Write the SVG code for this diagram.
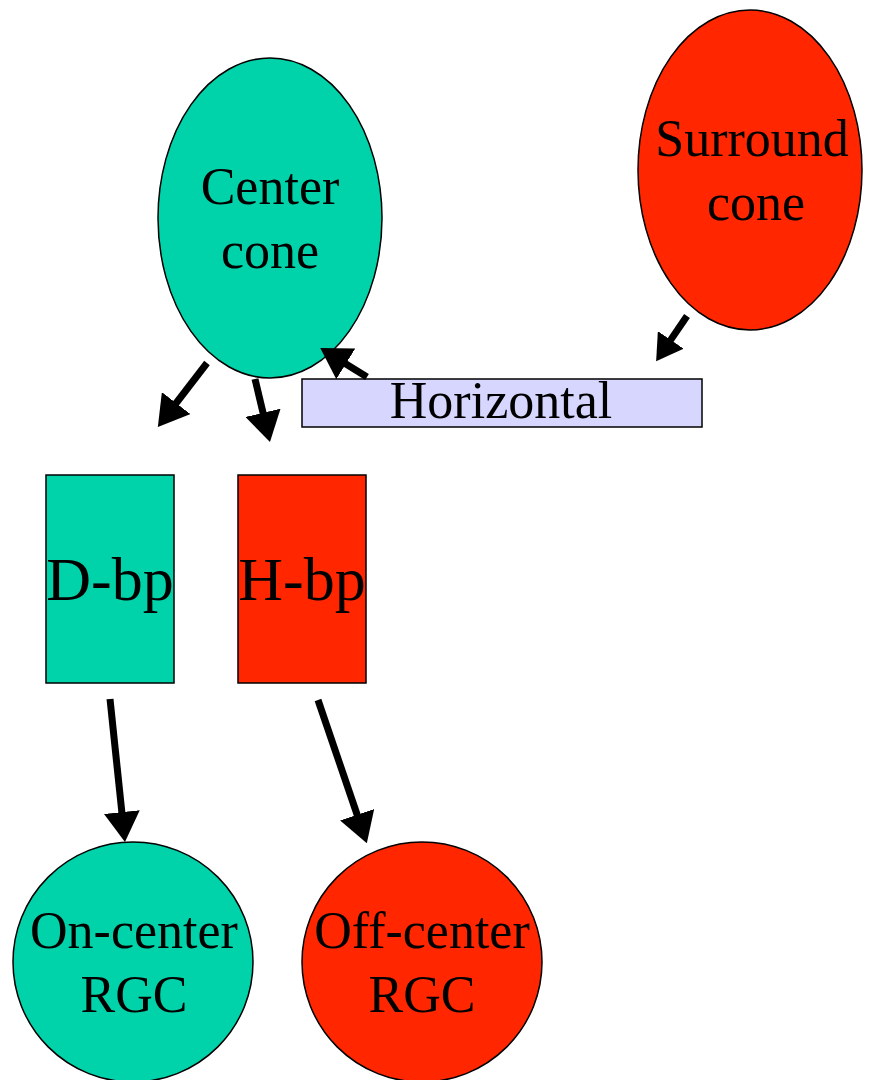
<svg xmlns="http://www.w3.org/2000/svg" width="874" height="1080" viewBox="0 0 874 1080">
<style>
.t{font-family:"Liberation Serif","Times New Roman",serif;font-size:52px;fill:#000;text-anchor:middle}
.b{font-size:62px}
.teal{fill:#00d3aa;stroke:#000;stroke-width:1.5}
.red{fill:#ff2600;stroke:#000;stroke-width:1.5}
.lav{fill:#d6d6ff;stroke:#000;stroke-width:1.5}
.c{stroke:#000;stroke-width:7;fill:none}
</style>
<defs>
<marker id="ah" viewBox="0 0 30 36" refX="15" refY="18" markerWidth="30" markerHeight="36" markerUnits="userSpaceOnUse" orient="auto">
<path d="M0,0 L30,18 L0,36 Z" fill="#000"/>
</marker>
<marker id="ahs" viewBox="0 0 30 36" refX="15" refY="18" markerWidth="26" markerHeight="31" markerUnits="userSpaceOnUse" orient="auto">
<path d="M0,0 L30,18 L0,36 Z" fill="#000"/>
</marker>
</defs>
<rect width="874" height="1080" fill="#fff"/>
<g id="center-cone"><ellipse class="teal" cx="270" cy="218" rx="112" ry="160"/><text class="t" x="270" y="204">Center</text><text class="t" x="270" y="268">cone</text></g>
<g id="surround-cone"><ellipse class="red" cx="750" cy="170" rx="112" ry="160"/><text class="t" x="752" y="156">Surround</text><text class="t" x="756" y="220">cone</text></g>
<g id="horizontal"><rect class="lav" x="302" y="379" width="400" height="48"/><text class="t" x="501" y="418">Horizontal</text></g>
<g id="d-bp"><rect class="teal" x="46" y="475" width="128" height="208"/><text class="t b" x="110" y="600">D-bp</text></g>
<g id="h-bp"><rect class="red" x="238" y="475" width="128" height="208"/><text class="t b" x="302" y="600">H-bp</text></g>
<g id="on-center"><circle class="teal" cx="133" cy="962" r="120"/><text class="t" x="134" y="948">On-center</text><text class="t" x="134" y="1012">RGC</text></g>
<g id="off-center"><circle class="red" cx="422" cy="962" r="120"/><text class="t" x="422" y="948">Off-center</text><text class="t" x="422" y="1012">RGC</text></g>
<g id="connectors">
<line class="c" x1="207" y1="363" x2="167" y2="415" marker-end="url(#ah)"/>
<line class="c" x1="255" y1="379" x2="266.5" y2="427.4" marker-end="url(#ah)"/>
<line class="c" x1="367" y1="377" x2="333" y2="356" marker-end="url(#ah)"/>
<line class="c" x1="687" y1="316" x2="663.4" y2="350.6" stroke-width="6" marker-end="url(#ahs)"/>
<line class="c" x1="110" y1="699" x2="123.4" y2="827" marker-end="url(#ah)"/>
<line class="c" x1="318" y1="700" x2="362" y2="829" marker-end="url(#ah)"/>
</g>
</svg>
